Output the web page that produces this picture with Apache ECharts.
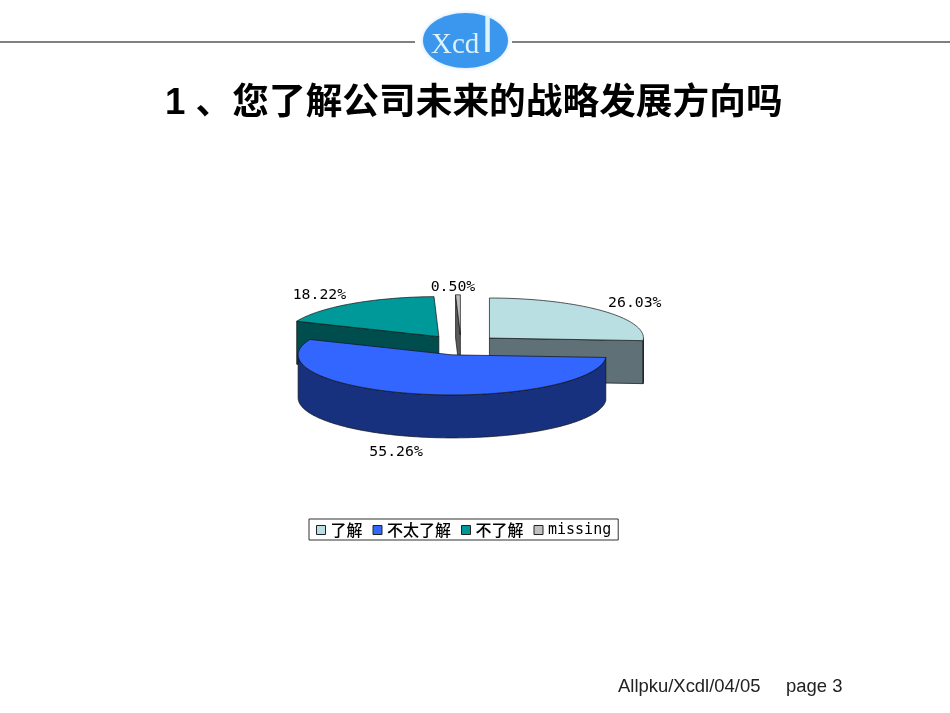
<!DOCTYPE html>
<html><head><meta charset="utf-8">
<style>html,body{margin:0;padding:0;background:#fff}#c{width:950px;height:713px}</style>
<script src="https://cdn.jsdelivr.net/npm/echarts@6/dist/echarts.min.js"></script>
</head><body><div id="c"></div>
<script>
const titleText = '1 、您了解公司未来的战略发展方向吗';
const footerText = 'Allpku/Xcdl/04/05     page 3';
const logoHead = 'Xcd';
const logoTail = 'l';
const categories = ['了解', '不太了解', '不了解', 'missing'];
const percents = [26.03, 55.26, 18.22, 0.50];

// styling / layout of the drawing
const faceColors = ['#B9DFE3', '#3366FF', '#009999', '#C0C0C0'];
const wallColors = ['#5F7076', '#17317F', '#004D4D', '#5A5A5A'];
const labelOffsets = [[33, -8], [-21, 15], [-32, -9], [-5, -8]];
const pie = {cx: 461, cy: 345, rx: 154, squash: 0.26, explode: 39, depth: 43};

const total = percents.reduce((a, b) => a + b, 0);
const starts = percents.map((_, i) => percents.slice(0, i).reduce((a, b) => a + b, 0) / total * 2 * Math.PI);

function renderSlice(i, params, api) {
  const val = api.value(0);
  const a0 = starts[i], a1 = a0 + val / total * 2 * Math.PI, mid = (a0 + a1) / 2;
  const ry = pie.rx * pie.squash;
  const ax = pie.cx + pie.explode * Math.sin(mid);
  const ay = pie.cy - pie.explode * pie.squash * Math.cos(mid);
  const pt = (t, dy) => [ax + pie.rx * Math.sin(t), ay - ry * Math.cos(t) + (dy || 0)];
  const arc = (s, e, dy) => {
    const n = Math.max(2, Math.ceil((e - s) / 0.02)), out = [];
    for (let k = 0; k <= n; k++) out.push(pt(s + (e - s) * k / n, dy));
    return out;
  };
  const stroke = {stroke: '#111', lineWidth: 0.7, lineJoin: 'round'};
  const poly = (points, fill) => ({type: 'polygon', shape: {points}, style: Object.assign({fill}, stroke)});
  const children = [];
  const d = pie.depth, wall = wallColors[i];
  // only the cut faces turned toward the viewer are drawn
  [[a0, Math.sin(a0) < -1e-6], [a1, Math.sin(a1) > 1e-6]].forEach(([t, visible]) => {
    if (!visible) return;
    const p = pt(t);
    children.push(poly([[ax, ay], p, [p[0], p[1] + d], [ax, ay + d]], wall));
  });
  const s = Math.max(a0, Math.PI / 2), e = Math.min(a1, Math.PI * 1.5);
  if (e > s) children.push(poly(arc(s, e, 0).concat(arc(s, e, d).reverse()), wall));
  children.push(poly([[ax, ay]].concat(arc(a0, a1, 0)), faceColors[i]));
  const lp = pt(mid);
  children.push({
    type: 'text', silent: true,
    style: {
      x: lp[0] + labelOffsets[i][0], y: lp[1] + (Math.cos(mid) < 0 ? d : 0) + labelOffsets[i][1],
      text: val.toFixed(2) + '%', fill: '#000', align: 'center', verticalAlign: 'middle',
      font: '14.8px "DejaVu Sans Mono",monospace'
    }
  });
  return {type: 'group', children};
}

const chart = echarts.init(document.getElementById('c'), null, {renderer: 'canvas'});
chart.setOption({
  animation: false,
  backgroundColor: '#fff',
  title: {
    text: titleText, left: 160, top: 81,
    textStyle: {fontSize: 36.7, fontWeight: 'bold', color: '#000', fontFamily: '"Liberation Sans","Noto Sans CJK SC",sans-serif'}
  },
  legend: {
    left: 309, top: 519, padding: [3, 7, 2, 7],
    borderColor: '#333', borderWidth: 1, backgroundColor: '#fff',
    itemWidth: 9, itemHeight: 9, itemGap: 10, icon: 'rect',
    itemStyle: {borderColor: '#222', borderWidth: 1},
    data: categories,
    formatter: n => /^[a-z]/i.test(n) ? '{m|' + n + '}' : '{c|' + n + '}',
    textStyle: {
      color: '#000',
      rich: {
        c: {fontSize: 16, fontWeight: 500, fontFamily: '"Noto Sans CJK SC"', color: '#000', lineHeight: 16},
        m: {fontSize: 15, fontFamily: '"DejaVu Sans Mono"', color: '#000', lineHeight: 16}
      }
    }
  },
  graphic: [
    {type: 'line', shape: {x1: 0, y1: 42, x2: 415, y2: 42}, style: {stroke: '#808080', lineWidth: 2}},
    {type: 'line', shape: {x1: 512, y1: 42, x2: 950, y2: 42}, style: {stroke: '#808080', lineWidth: 2}},
    {type: 'ellipse', shape: {cx: 465.5, cy: 40.5, rx: 42.5, ry: 27.5}, style: {fill: '#3B96EE', shadowBlur: 4, shadowColor: '#C4DFF8'}},
    {type: 'text', style: {x: 431, y: 60, text: logoHead, align: 'left', verticalAlign: 'bottom', fill: '#DDF3F8', font: '29px "Liberation Serif",serif'}},
    {type: 'text', style: {x: 482, y: 63, text: logoTail, align: 'left', verticalAlign: 'bottom', fill: '#DDF3F8', font: '50px "Liberation Sans",sans-serif'}},
    {type: 'text', style: {x: 618, y: 687, text: footerText, verticalAlign: 'middle', fill: '#222', font: '18.45px "Liberation Sans",sans-serif'}}
  ],
  series: categories.map((name, i) => ({
    type: 'custom', name,
    coordinateSystem: 'none',
    z: 10 + Math.round(100 - 50 * Math.cos(starts[i] + percents[i] / total * Math.PI)),
    itemStyle: {color: faceColors[i]},
    data: [[percents[i]]],
    renderItem: (params, api) => renderSlice(i, params, api)
  }))
});
</script></body></html>
